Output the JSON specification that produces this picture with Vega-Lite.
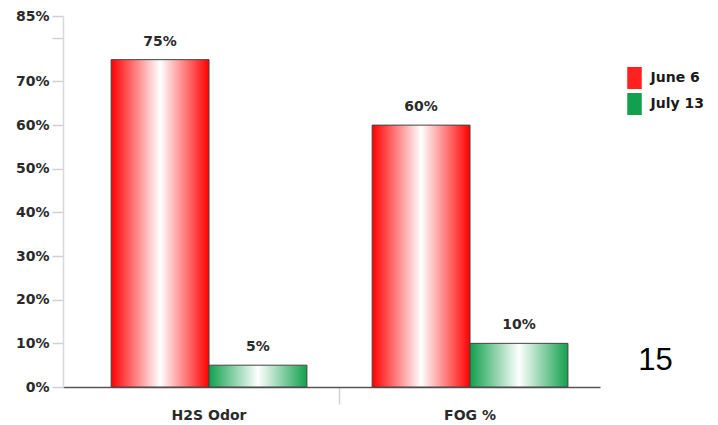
{
  "$schema": "https://vega.github.io/schema/vega-lite/v6.json",
  "width": 537,
  "height": 371,
  "autosize": {"type": "none"},
  "padding": {"left": 63, "top": 16, "right": 118, "bottom": 38},
  "background": "white",
  "config": {
    "view": {"stroke": null},
    "font": "DejaVu Sans"
  },
  "data": {
    "values": [
      {"category": "H2S Odor", "series": "June 6", "value": 75, "label": "75%"},
      {"category": "H2S Odor", "series": "July 13", "value": 5, "label": "5%"},
      {"category": "FOG %", "series": "June 6", "value": 60, "label": "60%"},
      {"category": "FOG %", "series": "July 13", "value": 10, "label": "10%"}
    ]
  },
  "encoding": {
    "x": {
      "field": "category",
      "type": "nominal",
      "sort": ["H2S Odor", "FOG %"],
      "scale": {"paddingInner": 0.25, "paddingOuter": 0.1537, "align": 0.6},
      "axis": {
        "title": null,
        "labelAngle": 0,
        "labelFont": "DejaVu Sans",
        "labelFontSize": 14,
        "labelFontWeight": "bold",
        "labelColor": "#2a2a2a",
        "labelPadding": 4,
        "bandPosition": 1.1658,
        "tickSize": 17,
        "tickColor": "#d0d0d0",
        "tickWidth": 1.5,
        "tickOpacity": {"condition": {"test": "datum.value === 'FOG %'", "value": 0}, "value": 1},
        "domainColor": "#555555",
        "domainWidth": 1.5,
        "grid": false
      }
    },
    "y": {
      "field": "value",
      "type": "quantitative",
      "scale": {"domain": [0, 85], "nice": false, "zero": true},
      "axis": {
        "title": null,
        "values": [0, 10, 20, 30, 40, 50, 60, 70, 80, 85],
        "labelExpr": "datum.value == 80 ? '' : datum.value + '%'",
        "labelFont": "DejaVu Sans",
        "labelFontSize": 14,
        "labelFontWeight": "bold",
        "labelColor": "#2a2a2a",
        "labelPadding": 3,
        "tickSize": 11,
        "tickColor": "#d0d0d0",
        "tickWidth": 1.5,
        "domainColor": "#d9d9d9",
        "domainWidth": 1.5,
        "grid": false
      }
    }
  },
  "layer": [
    {
      "mark": {"type": "bar", "opacity": 0},
      "encoding": {
        "xOffset": {"field": "series", "type": "nominal", "sort": ["June 6", "July 13"], "scale": {"paddingInner": 0, "paddingOuter": 0}},
        "color": {
          "field": "series",
          "type": "nominal",
          "sort": ["June 6", "July 13"],
          "scale": {"domain": ["June 6", "July 13"], "range": ["#ff2020", "#12a04e"]},
          "legend": {
            "title": null,
            "orient": "none",
            "legendX": 560.5,
            "legendY": 51,
            "padding": 0,
            "symbolType": "M-0.66,-1H0.66V1H-0.66Z",
            "symbolSize": 484,
            "symbolStrokeWidth": 0,
            "symbolOpacity": 1,
            "rowPadding": 4,
            "labelOffset": 5,
            "labelFont": "DejaVu Sans",
            "labelFontSize": 14,
            "labelFontWeight": "bold",
            "labelColor": "#1a1a1a"
          }
        }
      }
    },
    {
      "mark": {"type": "bar", "stroke": "#444444", "strokeWidth": 1},
      "encoding": {
        "xOffset": {"field": "series", "type": "nominal", "sort": ["June 6", "July 13"], "scale": {"paddingInner": 0, "paddingOuter": 0}},
        "fill": {
          "condition": {
            "test": "datum.series === 'June 6'",
            "value": {"gradient": "linear", "x1": 0, "x2": 1, "y1": 0, "y2": 0, "stops": [{"offset": 0, "color": "#ff0000"}, {"offset": 0.5, "color": "#ffffff"}, {"offset": 1, "color": "#ff0000"}]}
          },
          "value": {"gradient": "linear", "x1": 0, "x2": 1, "y1": 0, "y2": 0, "stops": [{"offset": 0, "color": "#12a04e"}, {"offset": 0.5, "color": "#ffffff"}, {"offset": 1, "color": "#12a04e"}]}
        }
      }
    },
    {
      "mark": {"type": "text", "baseline": "middle", "dy": -18, "font": "DejaVu Sans", "fontSize": 14, "fontWeight": "bold", "color": "#2a2a2a"},
      "encoding": {
        "xOffset": {"field": "series", "type": "nominal", "sort": ["June 6", "July 13"], "scale": {"paddingInner": 0, "paddingOuter": 0}},
        "text": {"field": "label"}
      }
    },
    {
      "data": {"values": [{"category": "FOG %", "value": 6, "label": "15"}]},
      "mark": {"type": "text", "baseline": "middle", "align": "center", "dx": 185.5, "font": "Liberation Sans", "fontSize": 31, "fill": "#000000"},
      "encoding": {
        "text": {"field": "label"}
      }
    }
  ]
}
